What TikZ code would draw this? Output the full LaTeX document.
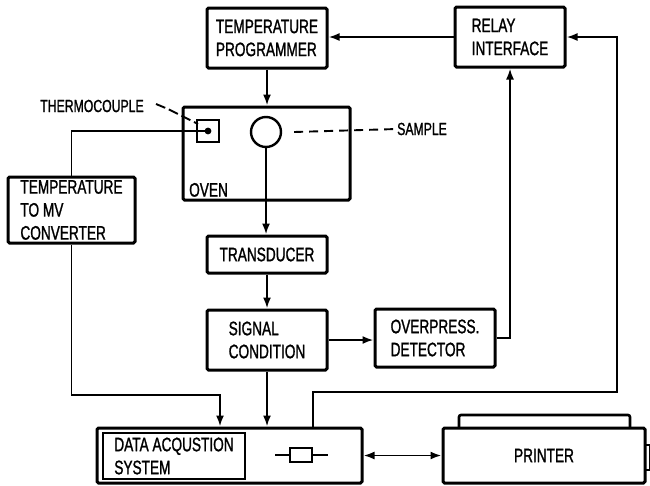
\documentclass[tikz,border=0pt]{standalone}
\usepackage{fontspec}
\setmainfont{Liberation Sans}[FakeStretch=0.70,FakeBold=1.2]
\usetikzlibrary{arrows.meta}

\begin{document}
\begin{tikzpicture}[x=1pt,y=-1pt,
    every node/.style={inner sep=0pt,align=left,font=\fontsize{19.5}{23}\selectfont},
    blk/.style={draw,line width=3pt,rounded corners=1.5pt},
    lbl/.style={font=\fontsize{17.5}{20}\selectfont},
    wire/.style={line width=1.9pt},
    arr/.style={wire,-{Latex[length=11pt,width=8pt]}}]
  \useasboundingbox (0,0) rectangle (650,485);
  % boxes
  \node[blk,minimum width=120pt,minimum height=60pt] (prog) at (267,38) {TEMPERATURE\\PROGRAMMER};
  \node[blk,minimum width=110pt,minimum height=60pt] (relay) at (510,37) {RELAY\\INTERFACE};
  \node[blk,minimum width=167pt,minimum height=93pt] (oven) at (266.5,153.5) {};
  \node[anchor=south west] (ovenlbl) at (189,197) {OVEN};
  \node[draw,line width=2.4pt,minimum size=22pt] (tc) at (208,131) {};
  \node[draw,circle,line width=2.4pt,minimum size=30pt] (smp) at (266,132) {};
  \node[blk,minimum width=127pt,minimum height=66pt] (conv) at (71.5,210) {TEMPERATURE\\TO MV\\CONVERTER};
  \node[blk,minimum width=120pt,minimum height=37pt] (trans) at (267,254.5) {TRANSDUCER};
  \node[blk,minimum width=120pt,minimum height=60pt] (sig) at (267,340) {SIGNAL\\CONDITION};
  \node[blk,minimum width=120pt,minimum height=58pt] (det) at (435,338) {OVERPRESS.\\DETECTOR};
  \node[blk,minimum width=265pt,minimum height=55pt] (das) at (229.5,455.5) {};
  \node[draw,line width=1.8pt,minimum width=142pt,minimum height=46pt] (dasin) at (174,456) {DATA ACQUSTION\\SYSTEM};
  % printer
  \draw[line width=2.6pt,rounded corners=2pt] (459,428) -- (459,415) -- (630,415) -- (630,428);
  \draw[line width=2.2pt] (645,445) rectangle (650,470);
  \node[blk,fill=white,minimum width=202pt,minimum height=55pt] (prn) at (544,455.5) {PRINTER};
  % fuse symbol
  \draw[wire] (275,455) -- (328,455);
  \draw[line width=2.4pt,fill=white] (290,448) rectangle (312,462);
  % labels
  \node[lbl] (tclbl) at (92,106) {THERMOCOUPLE};
  \node[lbl,anchor=west] (sample) at (397,129) {SAMPLE};
  \draw[wire,dash pattern=on 10pt off 4pt] (156,104) -- (168,109) -- (198,124);
  \draw[wire,dash pattern=on 9pt off 6pt] ([xshift=12pt]smp.east) -- (sample.west);
  % connectors
  \coordinate (j1) at (220,395);
  \coordinate (j2) at (313,392);
  \coordinate (j3) at (617,392);
  \draw[arr] (relay.west) -- (relay.west -| prog.east);
  \draw[arr] (prog.south) -- (prog.south |- oven.north);
  \draw[arr] (smp.south) -- (smp.south |- trans.north);
  \draw[arr] (trans.south) -- (sig.north);
  \draw[arr] (sig.east) -- (sig.east -| det.west);
  \draw[arr] (det.east) -| (relay.south);
  \draw[arr] (sig.south) -- (sig.south |- das.north);
  \fill (tc.center) circle (3.4pt);
  \draw[wire] (tc.center) -| (conv.north);
  \draw[arr] (conv.south) |- (j1) -- (j1 |- das.north);
  \draw[arr] (j2 |- das.north) -- (j2) -- (j3) |- (relay.east);
  \draw[wire,{Latex[length=11pt,width=8pt]}-{Latex[length=11pt,width=8pt]}] (das.east) -- (prn.west);
\end{tikzpicture}
\end{document}
